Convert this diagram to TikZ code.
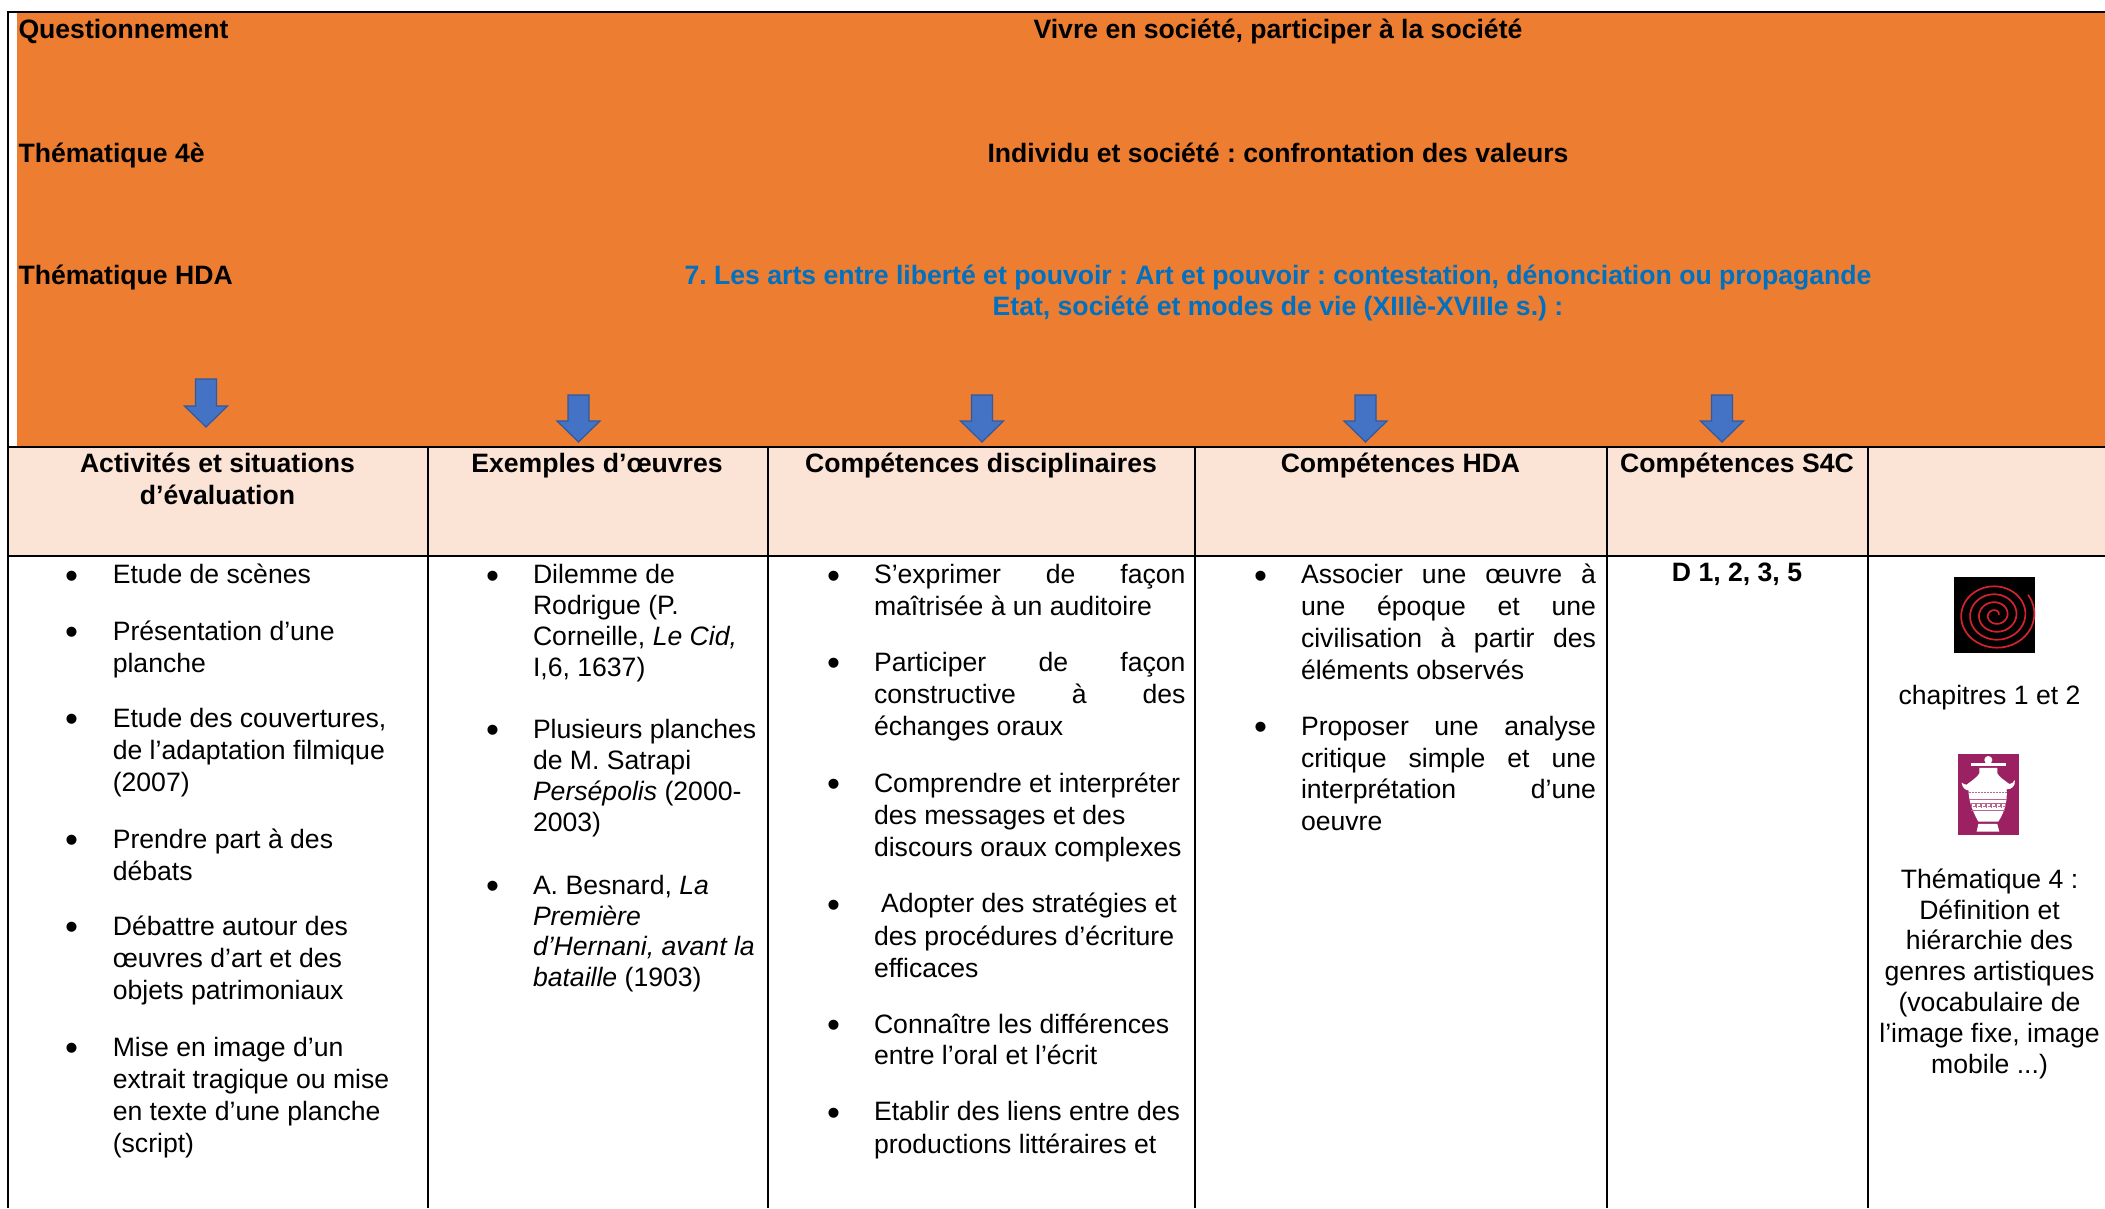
\documentclass[tikz,border=0pt]{standalone}
\usepackage{fontspec}
\setmainfont{Liberation Sans}
\frenchspacing
\definecolor{orangefill}{HTML}{ED7D31}
\definecolor{headfill}{HTML}{FBE4D5}
\definecolor{titleblue}{HTML}{0070C0}
\definecolor{arrowfill}{HTML}{4472C4}
\definecolor{arrowline}{HTML}{2F5AA0}
\definecolor{vasefill}{HTML}{9C2162}
\definecolor{spiralred}{HTML}{D2232F}
\newcommand\bodysize{\fontsize{26.6}{32}\selectfont}
% stacked lines whose reference point is the first baseline
\newcommand\stackL[2]{\vtop{\baselineskip=#1pt\lineskiplimit=-100pt\halign{##\hfil\cr #2\crcr}}}
\newcommand\stackC[2]{\vtop{\baselineskip=#1pt\lineskiplimit=-100pt\halign{\hfil##\hfil\cr #2\crcr}}}
\newcommand\just[2]{\makebox[#1pt][s]{#2}}
\newcommand\downarrowshape[3]{%
  \draw[blockarrow] (#1-10.5,#2) -- (#1+10.5,#2) -- (#1+10.5,#3-21) -- (#1+21.5,#3-21)
    -- (#1,#3) -- (#1-21.5,#3-21) -- (#1-10.5,#3-21) -- cycle;}
\tikzset{
  x=1pt,y=-1pt,
  rule/.style={line width=2pt,black},
  blockarrow/.style={fill=arrowfill,draw=arrowline,line width=1.2pt,line join=miter},
  txt/.style={anchor=base west,inner sep=0pt,outer sep=0pt,font=\bodysize,text=black,yshift=-1.3pt},
  ctxt/.style={txt,anchor=base},
  bold/.style={font=\bodysize\bfseries},
  bulletmark/.style={anchor=base,inner sep=0pt,outer sep=0pt,text=black,font=\fontsize{37}{37}\selectfont,yshift=-5.5pt,xshift=1.5pt}
}
\begin{document}
\begin{tikzpicture}
\useasboundingbox (0,0) rectangle (2105,1208);
% fills
\fill[orangefill] (17,12) rectangle (2105,447);
\fill[headfill] (8,447) rectangle (2105,556);
% rules
\draw[rule] (7,12) -- (2105,12);
\draw[rule] (8,12) -- (8,1208);
\draw[rule] (8,447) -- (2105,447);
\draw[rule] (8,556) -- (2105,556);
\draw[rule] (428,447) -- (428,1208);
\draw[rule] (768,447) -- (768,1208);
\draw[rule] (1195,447) -- (1195,1208);
\draw[rule] (1607,447) -- (1607,1208);
\draw[rule] (1868,447) -- (1868,1208);
% top band
\node[txt,bold] (q1) at (18.5,37.5) {Questionnement};
\node[ctxt,bold] (q2) at (1278,37.5) {Vivre en société, participer à la société};
\node[txt,bold] (t1) at (18.5,161) {Thématique 4è};
\node[ctxt,bold] (t2) at (1278,161) {Individu et société : confrontation des valeurs};
\node[txt,bold] (h1) at (18.5,283.5) {Thématique HDA};
\node[ctxt,bold,text=titleblue] (h2) at (1278,283.5) {\stackC{30.5}{7. Les arts entre liberté et pouvoir : Art et pouvoir : contestation, dénonciation ou propagande\cr Etat, société et modes de vie (XIIIè-XVIIIe s.) :}};
% arrows
\downarrowshape{206}{379}{427}
\downarrowshape{578.5}{395}{442}
\downarrowshape{982}{395}{442}
\downarrowshape{1365.5}{395}{442}
\downarrowshape{1722}{395}{442}
% header row
\node[ctxt,bold] (c1) at (217.5,471.5) {\stackC{31.7}{Activités et situations\cr d’évaluation}};
\node[ctxt,bold] (c2) at (597,471.5) {Exemples d’œuvres};
\node[ctxt,bold] (c3) at (981,471.5) {Compétences disciplinaires};
\node[ctxt,bold] (c4) at (1400.5,471.5) {Compétences HDA};
\node[ctxt,bold] (c5) at (1737,471.5) {Compétences S4C};
% column 1
\foreach \n/\y in {1/582.6,2/639,3/726,4/847,5/934,6/1055}
  \node[bulletmark] (ba\n) at (70,\y) {•};
\node[txt] (a1) at (112.8,582.6) {Etude de scènes};
\node[txt] (a2) at (112.8,639) {\stackL{32.2}{Présentation d’une\cr planche}};
\node[txt] (a3) at (112.8,726) {\stackL{32.2}{Etude des couvertures,\cr de l’adaptation filmique\cr (2007)}};
\node[txt] (a4) at (112.8,847) {\stackL{32.2}{Prendre part à des\cr débats}};
\node[txt] (a5) at (112.8,934) {\stackL{32.2}{Débattre autour des\cr œuvres d’art et des\cr objets patrimoniaux}};
\node[txt] (a6) at (112.8,1055) {\stackL{32.2}{Mise en image d’un\cr extrait tragique ou mise\cr en texte d’une planche\cr (script)}};
% column 2
\foreach \n/\y in {1/582.6,2/737,3/893}
  \node[bulletmark] (bb\n) at (491,\y) {•};
\node[txt] (b1) at (533,582.6) {\stackL{31}{Dilemme de\cr Rodrigue (P.\cr Corneille, \textit{Le Cid,}\cr I,6, 1637)}};
\node[txt] (b2) at (533,737) {\stackL{31}{Plusieurs planches\cr de M. Satrapi\cr \textit{Persépolis} (2000-\cr 2003)}};
\node[txt] (b3) at (533,893) {\stackL{30.8}{A. Besnard, \textit{La}\cr \textit{Première}\cr \textit{d’Hernani, avant la}\cr \textit{bataille} (1903)}};
% column 3
\foreach \n/\y in {1/582.6,2/670,3/790.7,4/911.5,5/1032,6/1119.6}
  \node[bulletmark] (bc\n) at (832,\y) {•};
\node[txt] (d1) at (874,582.6) {\stackL{31.5}{\just{311.5}{S’exprimer de façon}\cr maîtrisée à un auditoire}};
\node[txt] (d2) at (874,670) {\stackL{32.2}{\just{311.5}{Participer de façon}\cr \just{311.5}{constructive à des}\cr échanges oraux}};
\node[txt] (d3) at (874,790.7) {\stackL{32.2}{Comprendre et interpréter\cr des messages et des\cr discours oraux complexes}};
\node[txt] (d4) at (874,911.5) {\stackL{32.2}{\hspace*{7pt}Adopter des stratégies et\cr des procédures d’écriture\cr efficaces}};
\node[txt] (d5) at (874,1032) {\stackL{31.5}{Connaître les différences\cr entre l’oral et l’écrit}};
\node[txt] (d6) at (874,1119.6) {\stackL{32.2}{Etablir des liens entre des\cr productions littéraires et}};
% column 4
\foreach \n/\y in {1/582.6,2/734.3}
  \node[bulletmark] (bd\n) at (1259,\y) {•};
\node[txt] (e1) at (1301,582.6) {\stackL{32}{\just{295}{Associer une œuvre à}\cr \just{295}{une époque et une}\cr \just{295}{civilisation à partir des}\cr éléments observés}};
\node[txt] (e2) at (1301,734.3) {\stackL{31.5}{\just{295}{Proposer une analyse}\cr \just{295}{critique simple et une}\cr \just{295}{interprétation d’une}\cr oeuvre}};
% column 5
\node[ctxt,bold] (f1) at (1737,580.5) {D 1, 2, 3, 5};
% column 6
\fill[black] (1954,577) rectangle (2035,652.7);
\draw[spiralred,line width=1.7pt] plot[domain=0:1475,samples=240,smooth]
  ({1995.5+1.03*(3+\x/1475*35.5)*cos(\x)},{615-0.92*(3+\x/1475*35.5)*sin(\x)});
\node[ctxt] (g1) at (1989.5,703) {chapitres 1 et 2};
\fill[vasefill] (1958,754) rectangle (2019,835);
\begin{scope}[shift={(1750,420)},x=0.3333pt,y=-0.3333pt]
  \fill[white] (715,1020) circle (12);
  \fill[white] (662,1030) -- (768,1030) -- (768,1039) -- (662,1039) -- cycle;
  \fill[white] (688,1044) -- (742,1044) -- (742,1060)
    .. controls (748,1072) and (765,1082) .. (778,1092)
    .. controls (785,1092) and (790,1088) .. (795,1080)
    .. controls (796,1100) and (785,1108) .. (770,1108)
    .. controls (772,1135) and (768,1170) .. (745,1205)
    -- (685,1205)
    .. controls (665,1170) and (655,1135) .. (656,1112)
    .. controls (645,1110) and (636,1102) .. (635,1088)
    .. controls (640,1092) and (645,1094) .. (650,1094)
    .. controls (665,1082) and (682,1072) .. (688,1060) -- cycle;
  \fill[white] (685,1212) -- (742,1212) -- (748,1235) -- (680,1235) -- cycle;
  \draw[vasefill!70,line width=0.5pt,densely dotted] (657,1118) -- (770,1118);
  \draw[vasefill!70,line width=0.5pt] (658,1138) -- (770,1138);
  \draw[vasefill!70,line width=0.5pt] (662,1170) -- (764,1170);
  \foreach \k in {0,...,6}
    \draw[vasefill!70,line width=0.6pt] (665+15*\k,1164) -- (665+15*\k,1150) -- (675+15*\k,1150) -- (675+15*\k,1160) -- (670+15*\k,1160);
\end{scope}
\node[ctxt] (g2) at (1989.5,887) {\stackC{30.8}{Thématique 4 :\cr Définition et\cr hiérarchie des\cr genres artistiques\cr (vocabulaire de\cr l’image fixe, image\cr mobile ...)}};
\end{tikzpicture}
\end{document}
